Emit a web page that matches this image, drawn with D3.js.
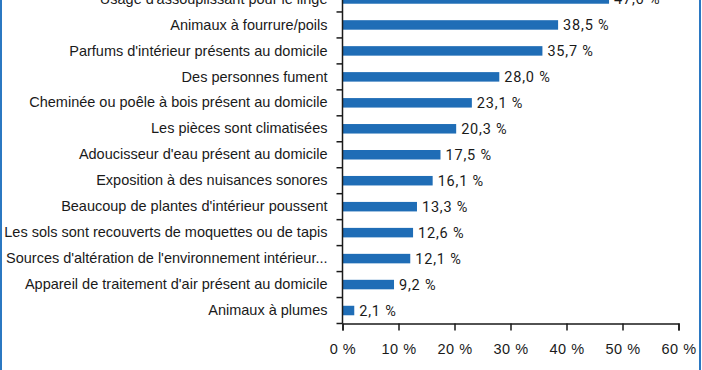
<!DOCTYPE html>
<html>
<head>
<meta charset="utf-8">
<script src="https://cdn.jsdelivr.net/npm/d3@7"></script>
<style>
  html, body { margin: 0; padding: 0; background: #fff; }
  svg { display: block; font-family: Roboto, "Noto Sans", sans-serif; }
</style>
</head>
<body>
<div id="chart"></div>
<script>
// categories top to bottom
const categories = [
  "Usage d'assouplissant pour le linge",
  "Animaux à fourrure/poils",
  "Parfums d'intérieur présents au domicile",
  "Des personnes fument",
  "Cheminée ou poêle à bois présent au domicile",
  "Les pièces sont climatisées",
  "Adoucisseur d'eau présent au domicile",
  "Exposition à des nuisances sonores",
  "Beaucoup de plantes d'intérieur poussent",
  "Les sols sont recouverts de moquettes ou de tapis",
  "Sources d'altération de l'environnement intérieur...",
  "Appareil de traitement d'air présent au domicile",
  "Animaux à plumes"
];
const values = [47.6, 38.5, 35.7, 28.0, 23.1, 20.3, 17.5, 16.1, 13.3, 12.6, 12.1, 9.2, 2.1];
const xTicks = [0, 10, 20, 30, 40, 50, 60];

const width = 702, height = 370;
const blue = "#1f6db6";
const ink = "#1a1a1a";

const svg = d3.select("#chart").append("svg")
  .attr("width", width)
  .attr("height", height);

// frame (blue side rules)
svg.append("rect").attr("x", 0).attr("y", 0).attr("width", 2).attr("height", height).attr("fill", "#2b78c2");
svg.append("rect").attr("x", 699).attr("y", 0).attr("width", 2).attr("height", height).attr("fill", "#2b78c2");

const x = d3.scaleLinear().domain([0, 60]).range([342.5, 678.5]);
const y = d3.scaleBand().domain(categories).range([-14, 323.5]).padding(0);
const barH = 9.5;

const fr = d3.formatLocale({ decimal: ",", thousands: " ", grouping: [3], currency: ["", " €"] });
const fmt = fr.format(".1f");

// bars
svg.append("g").selectAll("rect")
  .data(values)
  .enter()
  .append("rect")
  .attr("x", x(0))
  .attr("y", (d, i) => y(categories[i]) + (y.bandwidth() - barH) / 2)
  .attr("width", d => x(d) - x(0))
  .attr("height", barH)
  .attr("fill", blue);

// value labels
svg.append("g").selectAll("text")
  .data(values)
  .enter()
  .append("text")
  .attr("x", d => x(d) + 5)
  .attr("y", (d, i) => y(categories[i]) + y.bandwidth() / 2)
  .attr("dy", "0.35em")
  .attr("font-size", 14.5)
  .attr("letter-spacing", 0.8)
  .attr("fill", ink)
  .text(d => fmt(d) + " %");

// y axis: labels
const yAxis = svg.append("g")
  .attr("transform", "translate(" + x(0) + ",0)")
  .call(d3.axisLeft(y).tickSize(0).tickPadding(15));
yAxis.select(".domain").remove();
yAxis.selectAll("text").attr("font-size", 14.5).attr("fill", ink).attr("font-family", null);

// y axis: boundary ticks and line
const bounds = categories.map(c => y(c)).concat([y.range()[1]]);
svg.append("g").selectAll("line")
  .data(bounds)
  .enter()
  .append("line")
  .attr("x1", x(0) - 6)
  .attr("x2", x(0))
  .attr("y1", d => d)
  .attr("y2", d => d)
  .attr("stroke", ink)
  .attr("stroke-width", 1.5);
svg.append("line")
  .attr("x1", x(0)).attr("x2", x(0))
  .attr("y1", y.range()[0]).attr("y2", y.range()[1])
  .attr("stroke", ink).attr("stroke-width", 1.5);

// x axis
const xAxis = svg.append("g")
  .attr("transform", "translate(0," + y.range()[1] + ")")
  .call(d3.axisBottom(x).tickValues(xTicks).tickSize(7).tickPadding(13).tickFormat(d => d + " %"));
xAxis.select(".domain").attr("stroke", ink).attr("stroke-width", 1.5);
xAxis.selectAll(".tick line").attr("stroke", ink).attr("stroke-width", 1.5);
xAxis.selectAll("text").attr("font-size", 14.5).attr("letter-spacing", 0.5).attr("fill", ink).attr("font-family", null);
</script>
</body>
</html>
